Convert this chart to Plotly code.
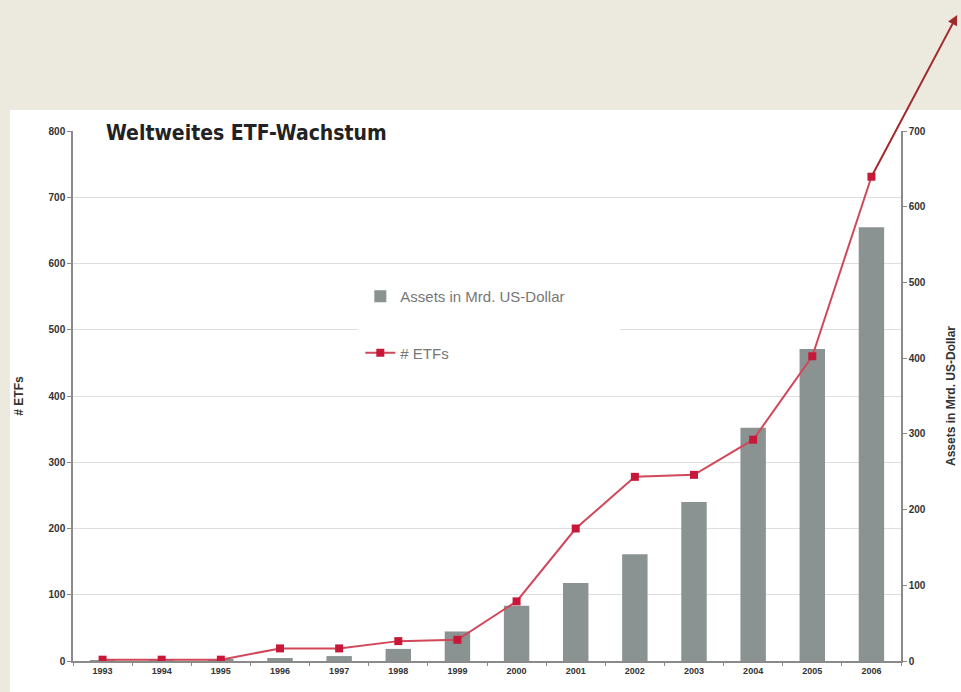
import plotly.graph_objects as go

years = ["1993", "1994", "1995", "1996", "1997", "1998", "1999",
         "2000", "2001", "2002", "2003", "2004", "2005", "2006"]
assets = [1, 1, 1.5, 4, 6.5, 16, 39, 73, 103, 141, 210, 308, 412, 573]
etfs = [2, 2, 2, 19, 19, 30, 32, 90, 200, 278, 281, 334, 460, 731]

left_ticks = [0, 100, 200, 300, 400, 500, 600, 700, 800]
right_ticks = [0, 100, 200, 300, 400, 500, 600, 700]

BEIGE = "#ece9df"
BAR = "#8b9292"
RED = "#c8183a"
LINE = "#d0485a"
AX = "#8a8a8a"
YTICKFONT = dict(family="Liberation Sans, Arial, sans-serif", size=10,
                 color="#333333", weight="bold")
XTICKFONT = dict(family="Liberation Sans, Arial, sans-serif", size=9,
                 color="#333333", weight="bold")
TITLEFONT = dict(family="Liberation Sans, Arial, sans-serif",
                 size=12, color="#333333", weight="bold")

fig = go.Figure()

fig.add_trace(go.Bar(
    x=years, y=assets, name="Assets in Mrd. US-Dollar",
    marker=dict(color=BAR, line=dict(width=0)),
    width=0.43, yaxis="y", legendgroup="a",
))
fig.add_trace(go.Scatter(
    x=years, y=etfs, name="# ETFs", mode="lines+markers",
    line=dict(color=LINE, width=2),
    marker=dict(symbol="square", size=8, color=RED),
    yaxis="y2", legendgroup="b",
))

fig.update_layout(
    width=961, height=692,
    margin=dict(l=73, r=60, t=131, b=31, pad=0),
    paper_bgcolor=BEIGE, plot_bgcolor="rgba(0,0,0,0)",
    showlegend=True,
    legend=dict(
        x=0.347, y=0.719, xanchor="left", yanchor="top",
        bgcolor="white", borderwidth=0,
        font=dict(family="Liberation Sans, Arial, sans-serif", size=15, color="#777777"),
        tracegroupgap=34, itemwidth=30,
        entrywidth=275, entrywidthmode="pixels",
    ),
    xaxis=dict(
        type="category", range=[-0.5, 13.5], automargin=False,
        showline=True, linecolor=AX, linewidth=1.5,
        ticks="outside", tickson="boundaries", ticklen=3, tickcolor=AX,
        tickfont=XTICKFONT, showgrid=False, zeroline=False,
    ),
    yaxis=dict(
        side="right", range=[0, 700], tickvals=right_ticks, automargin=False,
        showline=True, linecolor=AX, linewidth=1.5,
        ticks="outside", ticklen=4, tickcolor=AX,
        tickfont=YTICKFONT, showgrid=False, zeroline=False,
        title=dict(text="Assets in Mrd. US-Dollar", standoff=22, font=TITLEFONT),
    ),
    yaxis2=dict(
        overlaying="y", side="left", range=[0, 800], tickvals=left_ticks,
        automargin=False,
        showline=True, linecolor=AX, linewidth=1.5,
        ticks="outside", ticklen=4, tickcolor=AX,
        tickfont=YTICKFONT, showgrid=True, gridcolor="#dedede", gridwidth=1,
        zeroline=False,
        title=dict(text="# ETFs", standoff=22, font=TITLEFONT),
    ),
    shapes=[
        dict(
            type="rect", xref="paper", yref="paper",
            x0=-0.0761, x1=1.08, y0=-0.07, y1=1.0396,
            fillcolor="white", line=dict(width=0), layer="below",
        ),
        dict(
            type="rect", xref="paper", yref="paper",
            x0=0.344, x1=0.661, y0=0.55, y1=0.719,
            fillcolor="white", line=dict(width=0), layer="above",
        ),
    ],
    annotations=[
        dict(
            text="Weltweites ETF-Wachstum", xref="paper", yref="paper",
            x=0.038, y=0.996, xanchor="left", yanchor="middle", showarrow=False,
            font=dict(family="Liberation Sans Narrow, DejaVu Sans Condensed, Arial Narrow, sans-serif",
                      size=21, color="#222222", weight="bold"),
        ),
        dict(
            text="", xref="x", yref="y2", x=14.45, y=975,
            axref="x", ayref="y2", ax=13, ay=731,
            showarrow=True, arrowhead=2, arrowsize=1, arrowwidth=2,
            arrowcolor="#a3282c", standoff=0, startstandoff=0,
        ),
    ],
)

fig.write_html("out.html")
